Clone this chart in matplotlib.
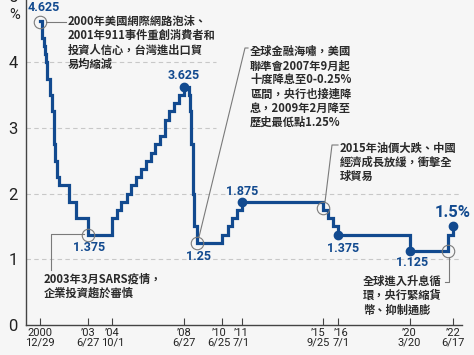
import numpy as np
import matplotlib
matplotlib.use('Agg')
import matplotlib.pyplot as plt
import matplotlib.dates as mdates
import matplotlib.transforms as mtransforms
from datetime import datetime

# Taiwan central bank discount rate (%), change dates
rate_dates = ['2000-12-29',
              '2001-02-02', '2001-03-06', '2001-03-30', '2001-04-23', '2001-05-18', '2001-06-29',
              '2001-08-20', '2001-09-19', '2001-10-04', '2001-11-08', '2001-12-28',
              '2002-06-28', '2002-11-12', '2003-06-27',
              '2004-10-01', '2004-12-31', '2005-03-25', '2005-07-01', '2005-09-16', '2005-12-23',
              '2006-03-31', '2006-06-30', '2006-09-29', '2006-12-29', '2007-03-30', '2007-06-22',
              '2007-09-21', '2007-12-21', '2008-03-28', '2008-06-27',
              '2008-09-26', '2008-10-09', '2008-10-30', '2008-11-10', '2008-12-12', '2009-01-08',
              '2009-02-19',
              '2010-06-25', '2010-10-01', '2010-12-31', '2011-04-01', '2011-07-01',
              '2015-09-25', '2015-12-18', '2016-03-25', '2016-07-01',
              '2020-03-20', '2022-03-18', '2022-06-17']
rate_values = [4.625,
               4.375, 4.25, 4.125, 4.0, 3.75, 3.5,
               3.25, 2.75, 2.5, 2.25, 2.125,
               1.875, 1.625, 1.375,
               1.625, 1.75, 1.875, 2.0, 2.125, 2.25,
               2.375, 2.5, 2.625, 2.75, 2.875, 3.125,
               3.25, 3.375, 3.5, 3.625,
               3.5, 3.25, 3.0, 2.75, 2.0, 1.5,
               1.25,
               1.375, 1.5, 1.625, 1.75, 1.875,
               1.75, 1.625, 1.5, 1.375,
               1.125, 1.375, 1.5]

tick_dates = ['2000-12-29', '2003-06-27', '2004-10-01', '2008-06-27', '2010-06-25',
              '2011-07-01', '2015-09-25', '2016-07-01', '2020-03-20', '2022-06-17']
tick_labels = ['2000\n12/29', '\u201903\n6/27', '\u201904\n10/1', '\u201908\n6/27', '\u201910\n6/25',
               '\u201911\n7/1', '\u201915\n9/25', '\u201916\n7/1', '\u201920\n3/20', '\u201922\n6/17']
tick_nudge = [0, 0, 0, 0, -3, -1, -5, 3, 0, 0]   # px, keeps crowded labels apart

# highlighted points (filled dot)
dot_dates = ['2008-06-27', '2011-07-01', '2016-07-01', '2020-03-20', '2022-06-17']
dot_values = [3.625, 1.875, 1.375, 1.125, 1.5]

# labelled values
label_dates = ['2000-12-29', '2008-06-27', '2003-06-27', '2009-02-19', '2011-07-01',
               '2016-07-01', '2020-03-20', '2022-06-17']
label_values = [4.625, 3.625, 1.375, 1.25, 1.875, 1.375, 1.125, 1.5]
label_texts = ['4.625', '3.625', '1.375', '1.25', '1.875', '1.375', '1.125', '1.5%']
label_offsets = [(4, 14), (0, 11), (1, -13), (2, -14), (0, 10), (5, -14), (2, -11), (0, 14)]

# open circle markers for events
ring_dates = ['2000-12-29', '2003-06-27', '2009-02-19', '2015-09-25', '2022-03-18']
ring_values = [4.61, 1.375, 1.25, 1.78, 1.125]

notes = ['2000年美國網際網路泡沫、\n2001年911事件重創消費者和\n投資人信心，台灣進出口貿\n易均縮減',
         '全球金融海嘯，美國\n聯準會2007年9月起\n十度降息至0-0.25%\n區間，央行也接連降\n息，2009年2月降至\n歷史最低點1.25%',
         '2015年油價大跌、中國\n經濟成長放緩，衝擊全\n球貿易',
         '2003年3月SARS疫情，\n企業投資趨於審慎',
         '全球進入升息循\n環，央行緊縮貨\n幣、抑制通膨']

BLUE = '#124a8f'
GRAY = '#7a7a7a'
BG = '#f6f6f6'
NUM_FONT = ['Roboto', 'DejaVu Sans']
CJK_FONT = ['Noto Sans CJK TC', 'DejaVu Sans']


def d(s):
    return mdates.date2num(datetime.strptime(s, '%Y-%m-%d'))


# pixel (reference layout) -> data helpers for annotation placement
x_ref = d('2000-12-29')
px_per_day = 0.05264


def px(x):
    return x_ref + (x - 40) / px_per_day


def py(y):
    return (325 - y) / 65.7


fig = plt.figure(figsize=(4.74, 3.55), dpi=100, facecolor=BG)
ax = fig.add_axes([26 / 474, 30 / 355, 436 / 474, 328.5 / 355])
ax.set_facecolor(BG)

x = [d(s) for s in rate_dates]
ax.plot(x, rate_values, drawstyle='steps-post', color=BLUE, lw=2.3, solid_joinstyle='miter', zorder=3)
ax.plot([d(s) for s in dot_dates], dot_values, 'o', color=BLUE, ms=6, zorder=4)
ax.plot([d(s) for s in ring_dates], ring_values, 'o', mfc='none', mec=GRAY, mew=0.8, ms=9, zorder=5)

for s, v, t, off in zip(label_dates, label_values, label_texts, label_offsets):
    big = t.endswith('%')
    ax.annotate(t, (d(s), v), xytext=off, textcoords='offset pixels', ha='center', va='center',
                color=BLUE, family=NUM_FONT, fontweight='bold', fontsize=12 if big else 9,
                zorder=6, annotation_clip=False)

# gridlines
for g in [1, 2]:
    ax.plot([px(26), px(462)], [g, g], color='#c8c8c8', lw=0.8, ls=(0, (4, 3)), zorder=1)
for g in [3, 4]:
    ax.plot([px(26), px(216)], [g, g], color='#c8c8c8', lw=0.8, ls=(0, (4, 3)), zorder=1)

ax.set_xlim(px(26), px(462))
ax.set_ylim(0, 5)
ax.set_yticks([0, 1, 2, 3, 4, 5])
ax.set_yticklabels(['0', '1', '2', '3', '4', '5'], family=NUM_FONT, fontsize=12, color='#222222')
ax.tick_params(axis='y', length=0, pad=6)
ax.set_xticks([d(s) for s in tick_dates])
ax.set_xticklabels(tick_labels, family=NUM_FONT, fontsize=8, color='#222222', linespacing=0.95)
ax.tick_params(axis='x', direction='in', length=5, width=0.8, color='#444444', pad=2)
for lab, dx in zip(ax.get_xticklabels(), tick_nudge):
    if dx:
        lab.set_transform(lab.get_transform() + mtransforms.ScaledTranslation(dx / 100, 0, fig.dpi_scale_trans))
for sp in ['top', 'right']:
    ax.spines[sp].set_visible(False)
for sp in ['left', 'bottom']:
    ax.spines[sp].set_color('#444444')
    ax.spines[sp].set_linewidth(1.0)
fig.text(15 / 474, 1 - 15 / 355, '%', ha='center', va='center', color='#222222',
         family=NUM_FONT, fontsize=10.5)

# notes with leader lines
tkw = dict(ha='left', va='top', fontsize=8.1, color='#2a2a2a', family=CJK_FONT,
           fontweight='bold', linespacing=1.12, zorder=6)
lkw = dict(color=GRAY, lw=0.8, clip_on=False, zorder=5)

ax.text(px(68), py(15), notes[0], **tkw)
ax.plot([px(46), px(66)], [py(22), py(22)], **lkw)

ax.text(px(250), py(45), notes[1], **tkw)
ax.plot([px(248), px(245), px(199)], [py(48), py(48), py(237)], **lkw)

ax.text(px(340), py(142), notes[2], **tkw)
ax.plot([px(338), px(332), px(325)], [py(145), py(145), py(202)], **lkw)

ax.text(px(44), py(273), notes[3], **tkw)
ax.plot([px(84), px(51), px(51)], [py(234), py(234), py(270)], **lkw)

ax.text(px(363), py(275), notes[4], **tkw)
ax.plot([px(449), px(449), px(445)], [py(257), py(282), py(282)], **lkw)

fig.savefig('out.png', dpi=100, facecolor=BG)
